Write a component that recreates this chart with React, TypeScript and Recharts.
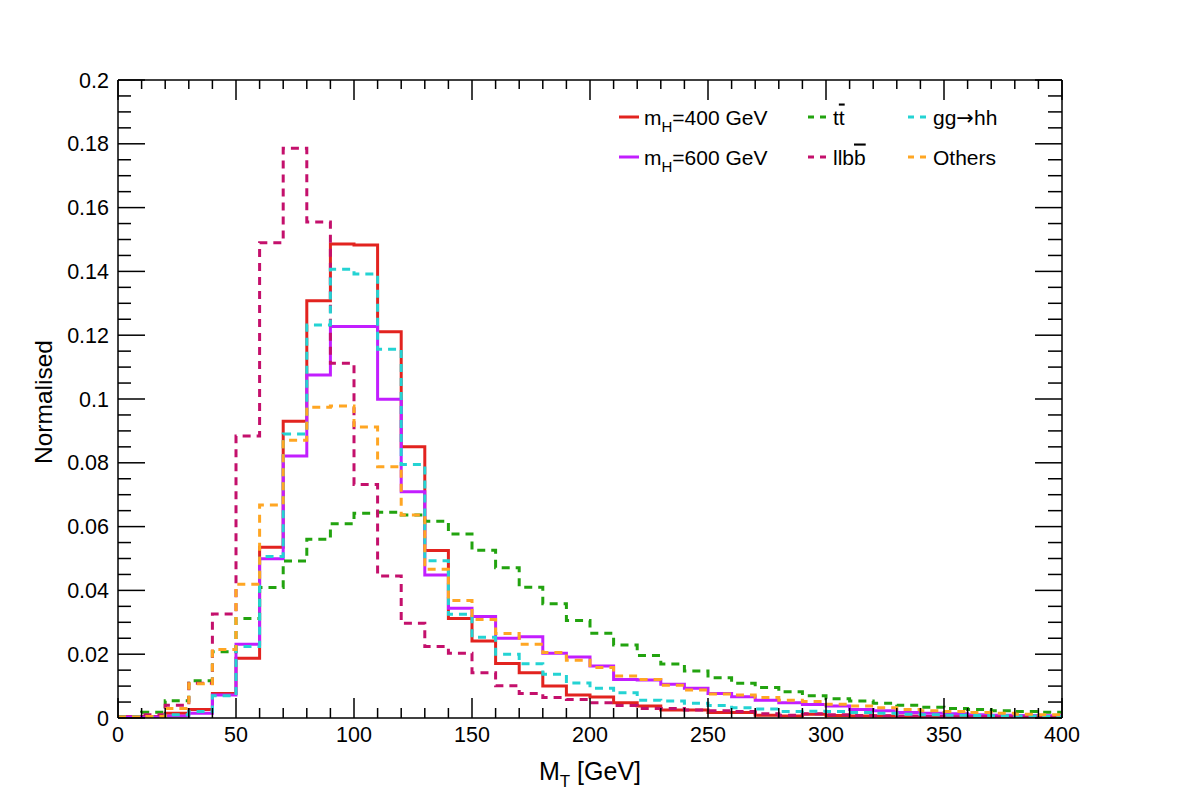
import React from 'react';
import { ComposedChart, Line, XAxis, YAxis } from 'recharts';

// bin edges (10 GeV bins), last edge closes the final step
const binEdges = [
  0, 10, 20, 30, 40, 50, 60, 70, 80, 90, 100, 110, 120, 130, 140, 150, 160, 170, 180, 190,
  200, 210, 220, 230, 240, 250, 260, 270, 280, 290, 300, 310, 320, 330, 340, 350, 360, 370, 380, 390, 400,
];

const mH400 = [
  0.0005, 0.0005, 0.0015, 0.0027, 0.0077, 0.0187, 0.0535, 0.093, 0.1308, 0.1486,
  0.1483, 0.1211, 0.085, 0.0525, 0.0312, 0.0241, 0.0171, 0.0142, 0.01, 0.0072,
  0.0066, 0.0048, 0.0038, 0.0025, 0.0025, 0.0017, 0.0017, 0.0009, 0.0006, 0.0012,
  0.0008, 0.0006, 0.0006, 0.0004, 0.0004, 0.0003, 0.0003, 0.0002, 0.0002, 0.0002,
];
const mH600 = [
  0.0003, 0.0003, 0.0006, 0.0015, 0.0072, 0.0231, 0.0499, 0.0821, 0.1075, 0.1227,
  0.1227, 0.0999, 0.0709, 0.0448, 0.0344, 0.0318, 0.025, 0.0255, 0.0203, 0.0191,
  0.0163, 0.0121, 0.0119, 0.0106, 0.0093, 0.0077, 0.0067, 0.0056, 0.0048, 0.0042,
  0.0038, 0.0027, 0.0023, 0.0017, 0.0015, 0.0013, 0.001, 0.0009, 0.0008, 0.0007,
];
const ttbar = [
  0.0003, 0.0018, 0.0054, 0.0117, 0.0208, 0.0312, 0.0409, 0.0492, 0.056, 0.0609,
  0.0642, 0.0645, 0.0636, 0.0617, 0.0577, 0.0526, 0.0471, 0.041, 0.0358, 0.0306,
  0.0266, 0.0229, 0.0196, 0.0169, 0.0147, 0.0126, 0.0109, 0.0096, 0.0082, 0.007,
  0.006, 0.0053, 0.0046, 0.004, 0.0034, 0.003, 0.0027, 0.0023, 0.002, 0.0018,
];
const llbb = [
  0.0002, 0.001, 0.004, 0.0109, 0.0326, 0.0884, 0.149, 0.1786, 0.1555, 0.1112,
  0.0732, 0.0445, 0.0297, 0.0224, 0.0203, 0.0142, 0.0101, 0.0077, 0.0064, 0.0058,
  0.0048, 0.0039, 0.003, 0.003, 0.0025, 0.0023, 0.002, 0.0013, 0.0009, 0.0013,
  0.001, 0.0008, 0.0007, 0.0006, 0.0005, 0.0004, 0.0004, 0.0003, 0.0003, 0.0002,
];
const gghh = [
  0.0003, 0.0003, 0.001, 0.002, 0.007, 0.0224, 0.0506, 0.089, 0.1232, 0.1407,
  0.1392, 0.1156, 0.0795, 0.0493, 0.0325, 0.0253, 0.02, 0.017, 0.0137, 0.011,
  0.0093, 0.0079, 0.0056, 0.0053, 0.0046, 0.0039, 0.0032, 0.0028, 0.002, 0.0021,
  0.002, 0.0017, 0.0015, 0.0012, 0.001, 0.0009, 0.0008, 0.0007, 0.0006, 0.0005,
];
const others = [
  0.0003, 0.0005, 0.003, 0.0107, 0.0215, 0.0419, 0.0668, 0.0871, 0.0974, 0.0978,
  0.0912, 0.0788, 0.0636, 0.0466, 0.0368, 0.0309, 0.0265, 0.0231, 0.0205, 0.0181,
  0.0158, 0.0132, 0.0121, 0.0103, 0.0088, 0.0075, 0.0072, 0.0064, 0.0056, 0.0052,
  0.0043, 0.0038, 0.0032, 0.0027, 0.0023, 0.002, 0.0017, 0.0015, 0.0012, 0.001,
];

const xMajorTicks = [0, 50, 100, 150, 200, 250, 300, 350, 400];
const yMajorTicks = [0, 0.02, 0.04, 0.06, 0.08, 0.1, 0.12, 0.14, 0.16, 0.18, 0.2];
const yMajorLabels = ['0', '0.02', '0.04', '0.06', '0.08', '0.1', '0.12', '0.14', '0.16', '0.18', '0.2'];
const yMinorTicks = Array.from({ length: 41 }, (_, i) => +(i * 0.005).toFixed(3));

const FONT = '"Liberation Sans", Arial, Helvetica, sans-serif';

const series = [
  { key: 'mH400', values: mH400, color: '#e2231f', dashed: false },
  { key: 'mH600', values: mH600, color: '#c21eff', dashed: false },
  { key: 'ttbar', values: ttbar, color: '#22a30f', dashed: true },
  { key: 'llbb', values: llbb, color: '#c4106c', dashed: true },
  { key: 'gghh', values: gghh, color: '#24d3d3', dashed: true },
  { key: 'others', values: others, color: '#ffa623', dashed: true },
];

// stepAfter rows: one per bin low edge, plus the closing edge at 400
const data = binEdges.map((x, i) => {
  const row: any = { x };
  series.forEach((s) => {
    row[s.key] = s.values[Math.min(i, s.values.length - 1)];
  });
  return row;
});

const isMajorY = (v: number) => yMajorTicks.some((t) => Math.abs(t - v) < 1e-9);

const BottomTick = (props: any) => {
  const { x, y, payload } = props;
  const major = xMajorTicks.includes(payload.value);
  return (
    <g>
      <line x1={x} x2={x} y1={y} y2={y - (major ? 20 : 10)} stroke="#000" strokeWidth={1.5} />
      {major && (
        <text x={x} y={y + 24} textAnchor="middle" fontSize={21.5} fontFamily={FONT} fill="#000">
          {payload.value}
        </text>
      )}
    </g>
  );
};

const TopTick = (props: any) => {
  const { x, y, payload } = props;
  const major = xMajorTicks.includes(payload.value);
  return <line x1={x} x2={x} y1={y} y2={y + (major ? 20 : 9)} stroke="#000" strokeWidth={1.5} />;
};

const LeftTick = (props: any) => {
  const { x, y, payload } = props;
  const idx = yMajorTicks.findIndex((t) => Math.abs(t - payload.value) < 1e-9);
  const major = idx >= 0;
  return (
    <g>
      <line x1={x} x2={x + (major ? 27 : 13)} y1={y} y2={y} stroke="#000" strokeWidth={1.5} />
      {major && (
        <text x={x - 9} y={y + 7.5} textAnchor="end" fontSize={21.5} fontFamily={FONT} fill="#000">
          {yMajorLabels[idx]}
        </text>
      )}
    </g>
  );
};

const RightTick = (props: any) => {
  const { x, y, payload } = props;
  const major = isMajorY(payload.value);
  return <line x1={x} x2={x - (major ? 27 : 14)} y1={y} y2={y} stroke="#000" strokeWidth={1.5} />;
};

const legendItems = [
  { color: '#e2231f', dashed: false, x: 619, y: 117, label: <><tspan>m</tspan><tspan dy={7} fontSize={15}>H</tspan><tspan dy={-7}>=400 GeV</tspan></> },
  { color: '#22a30f', dashed: true, x: 808, y: 117, label: <><tspan>t</tspan><tspan textDecoration="overline">t</tspan></> },
  { color: '#24d3d3', dashed: true, x: 908, y: 117, label: <><tspan>gg</tspan><tspan fontFamily='"DejaVu Sans", sans-serif' fontSize={21}>→</tspan><tspan>hh</tspan></> },
  { color: '#c21eff', dashed: false, x: 619, y: 157, label: <><tspan>m</tspan><tspan dy={7} fontSize={15}>H</tspan><tspan dy={-7}>=600 GeV</tspan></> },
  { color: '#c4106c', dashed: true, x: 808, y: 157, label: <><tspan>llb</tspan><tspan textDecoration="overline">b</tspan></> },
  { color: '#ffa623', dashed: true, x: 908, y: 157, label: <tspan>Others</tspan> },
];

export default function App() {
  return (
    <div style={{ position: 'absolute', left: 0, top: 0, background: '#fff' }}>
      <ComposedChart
        width={1182}
        height={798}
        data={data}
        margin={{ top: 70, right: 110, bottom: 20, left: 58 }}
      >
        <XAxis
          dataKey="x"
          type="number"
          domain={[0, 400]}
          allowDataOverflow
          ticks={binEdges}
          interval={0}
          tickSize={0}
          tickMargin={0}
          height={60}
          axisLine={{ stroke: '#000', strokeWidth: 1.5 }}
          tickLine={false}
          tick={(p: any) => <BottomTick {...p} />}
        />
        <XAxis
          xAxisId="top"
          orientation="top"
          dataKey="x"
          type="number"
          domain={[0, 400]}
          allowDataOverflow
          ticks={binEdges}
          interval={0}
          tickSize={0}
          tickMargin={0}
          height={10}
          axisLine={{ stroke: '#000', strokeWidth: 1.5 }}
          tickLine={false}
          tick={(p: any) => <TopTick {...p} />}
        />
        <YAxis
          type="number"
          domain={[0, 0.2]}
          allowDataOverflow
          ticks={yMinorTicks}
          interval={0}
          tickSize={0}
          tickMargin={0}
          width={60}
          axisLine={{ stroke: '#000', strokeWidth: 1.5 }}
          tickLine={false}
          tick={(p: any) => <LeftTick {...p} />}
        />
        <YAxis
          yAxisId="right"
          orientation="right"
          type="number"
          domain={[0, 0.2]}
          allowDataOverflow
          ticks={yMinorTicks}
          interval={0}
          tickSize={0}
          tickMargin={0}
          width={10}
          axisLine={{ stroke: '#000', strokeWidth: 1.5 }}
          tickLine={false}
          tick={(p: any) => <RightTick {...p} />}
        />
        {series.map((s) => (
          <Line
            key={s.key}
            type="stepAfter"
            dataKey={s.key}
            stroke={s.color}
            strokeWidth={3}
            strokeDasharray={s.dashed ? '8 6' : undefined}
            dot={false}
            activeDot={false}
            isAnimationActive={false}
          />
        ))}

        {/* axis titles */}
        <text x={590} y={780} textAnchor="middle" fontSize={25} fontFamily={FONT} fill="#000">
          <tspan>M</tspan>
          <tspan dy={7} fontSize={17}>T</tspan>
          <tspan dy={-7}> [GeV]</tspan>
        </text>
        <text
          x={52}
          y={402}
          transform="rotate(-90, 52, 402)"
          textAnchor="middle"
          fontSize={24.5}
          fontFamily={FONT}
          fill="#000"
        >
          Normalised
        </text>

        {/* legend */}
        {legendItems.map((it, i) => (
          <g key={i}>
            {it.dashed ? (
              <line x1={it.x} x2={it.x + 19} y1={it.y} y2={it.y} stroke={it.color} strokeWidth={3} strokeDasharray="6 6" />
            ) : (
              <line x1={it.x} x2={it.x + 20} y1={it.y} y2={it.y} stroke={it.color} strokeWidth={3} />
            )}
            <text x={it.x + 25} y={it.y + 7.5} fontSize={21} fontFamily={FONT} fill="#000">
              {it.label}
            </text>
          </g>
        ))}
      </ComposedChart>
    </div>
  );
}
